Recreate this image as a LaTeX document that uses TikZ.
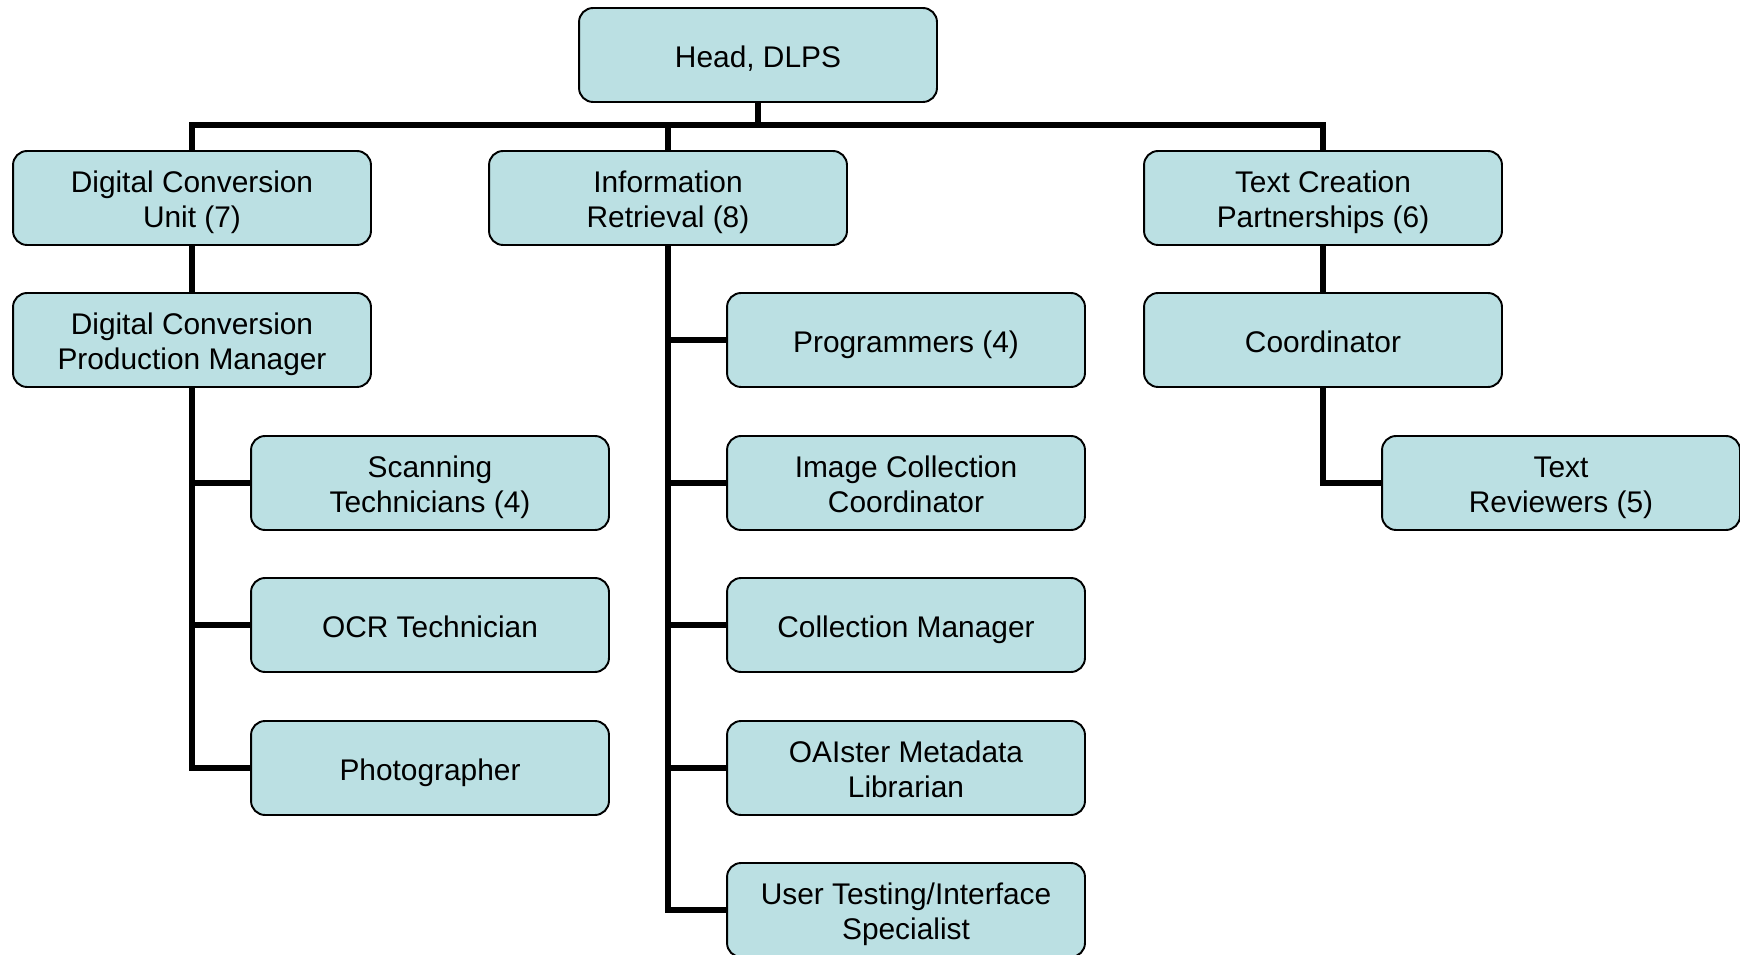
\documentclass[tikz,border=0pt]{standalone}
\usepackage{fontspec}
\setmainfont{Liberation Sans}
\usepackage{xcolor}
\usepackage{tikz}
\usetikzlibrary{positioning}
\definecolor{OrgFill}{HTML}{BBE0E3}
\definecolor{OrgLine}{HTML}{000000}

\begin{document}
\begin{tikzpicture}[x=0.02cm,y=-0.02cm,
  unit/.style={draw=OrgLine,line width=1.1pt,fill=OrgFill,rounded corners=8pt,minimum width=7.16cm,minimum height=1.88cm,align=center,text height=18pt,text depth=4pt,font=\fontsize{17}{20.3}\selectfont},
  twoline/.style={unit,text height=38pt},
  link/.style={line width=3.4pt,OrgLine}]
\useasboundingbox (0,0) rectangle (1740,955);
% top and first row
\node[unit] (head) at (758,55) {Head, DLPS};
\node[twoline] (dcu) at (192,198) {Digital Conversion\\Unit (7)};
\node[twoline] (ir) at (668,198) {Information\\Retrieval (8)};
\node[twoline] (tcp) at (1323,198) {Text Creation\\Partnerships (6)};
% digital conversion
\node[twoline] (dcpm) at (192,340) {Digital Conversion\\Production Manager};
\node[twoline] (scan) at (430,483) {Scanning\\Technicians (4)};
\node[unit] (ocr) at (430,625) {OCR Technician};
\node[unit] (photo) at (430,768) {Photographer};
% information retrieval
\node[unit] (prog) at (906,340) {Programmers (4)};
\node[twoline] (imgc) at (906,483) {Image Collection\\Coordinator};
\node[unit] (collm) at (906,625) {Collection Manager};
\node[twoline] (oai) at (906,768) {OAIster Metadata\\Librarian};
\node[twoline] (user) at (906,910) {User Testing/Interface\\Specialist};
% text creation
\node[unit] (coord) at (1323,340) {Coordinator};
\node[twoline] (rev) at (1561,483) {Text\\Reviewers (5)};
\coordinate (bus) at (758,125);
\draw[link] (head.south) -- (bus);
\draw[link] (bus) -| (dcu.north);
\draw[link] (bus) -| (ir.north);
\draw[link] (bus) -| (tcp.north);
\draw[link] (dcu) -- (dcpm);
\foreach \n in {scan,ocr,photo} \draw[link] (dcpm.south) |- (\n.west);
\foreach \n in {prog,imgc,collm,oai,user} \draw[link] (ir.south) |- (\n.west);
\draw[link] (tcp) -- (coord);
\draw[link] (coord.south) |- (rev.west);
\end{tikzpicture}
\end{document}
